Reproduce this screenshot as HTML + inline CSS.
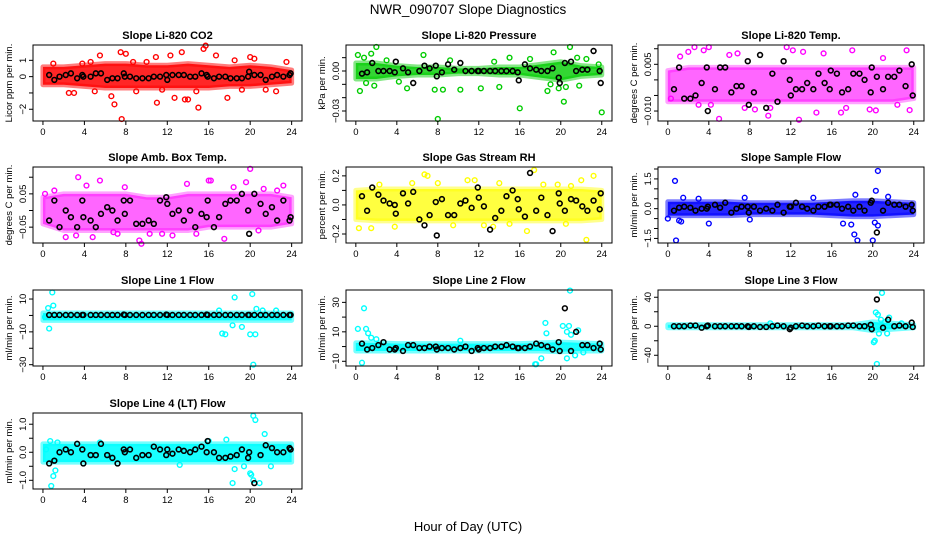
<!DOCTYPE html>
<html><head><meta charset="utf-8"><style>
html,body{margin:0;padding:0;background:#fff}
svg{display:block;font-family:"Liberation Sans",sans-serif}
</style></head><body>
<svg id="chart" width="936" height="540" xmlns="http://www.w3.org/2000/svg">
<text x="468" y="14" font-size="13.5" text-anchor="middle">NWR_090707  Slope Diagnostics</text>
<text x="468" y="531" font-size="13" text-anchor="middle">Hour of Day (UTC)</text>
</svg>
<script>
const envX=[0,2,4,6,8,10,12,14,16,18,20,22,24];
const bx=[0.6,1.1,1.6,2.2,2.7,3.3,3.8,3.9,4.6,5.1,5.6,6.2,6.7,7.2,7.8,7.9,8.4,9,9.6,10.2,10.7,11.3,11.9,12.0,12.5,13.1,13.6,14.2,14.7,15.3,15.8,15.9,16.5,17,17.6,18.1,18.7,19.2,19.8,19.9,20.4,21,21.5,22.1,22.6,23.2,23.8,23.9];
const xTicks=[0,4,8,12,16,20,24];

const co2Hi=[0.6,0.6,0.7,0.8,0.8,0.7,0.7,0.8,0.7,0.6,0.7,0.6,0.4];
const co2Lo=[-0.5,-0.5,-0.6,-0.7,-0.7,-0.7,-0.7,-0.7,-0.7,-0.6,-0.6,-0.5,-0.4];
const co2Ox=[7.6,6.6,6.9,11,15,7.5,8,5.5,10.9,13.4,15.5,15.7,16.7,20,12.7,14,13.7,17.8,22.5,3,4.6,10,1,21.5,9,11.5,2.5,5,8.7,12.3,18.5,23.5,19.2,14.8,3.8,20.4];
const co2Oy=[-2.6,-1.2,-1.7,-1.6,-1.9,1.5,1.4,1.3,1.2,1.5,1.7,1.9,1.3,1.2,-1.3,-1.4,-1.4,-1.3,-0.9,-1,0.9,0.9,0.8,-0.8,-0.9,-0.8,-1,-0.9,0.9,1.3,1,0.9,-0.8,-0.9,0.8,1.1];
const co2By=[0.1,-0.2,0,0.1,0.2,-0.1,0.1,0,0,0.2,0.2,-0.2,-0.1,-0.1,0.2,0,0,-0.1,-0.1,-0.1,0,0,0.1,-0.2,0.1,0.1,0.1,0,0,0.2,0.1,0,-0.1,0,0,-0.1,-0.1,-0.1,0,0.3,0.1,0.1,-0.2,0,0.1,0,0.1,0.2];

const prHi=[0.006,0.006,0.004,0.003,0.003,0.002,0.002,0.003,0.003,0.005,0.007,0.004,0.003];
const prLo=[-0.006,-0.006,-0.004,-0.003,-0.003,-0.002,-0.002,-0.003,-0.003,-0.005,-0.007,-0.004,-0.003];
const prOx=[8,16,24,20.3,2,0.2,1.5,20.9,0.4,10.2,18.7,6.6,15,9.2,21.6,19.3,1.8,5,7.7,8.5,12.2,14,19.8,21.8,1,3,13.5,17,22.5,23.7,0.8,19,20.5,4.2];
const prOy=[-0.036,-0.028,-0.031,-0.023,0.018,0.012,0.013,0.018,-0.015,-0.014,-0.015,0.012,0.01,0.008,0.01,0.014,-0.011,-0.013,-0.014,-0.014,-0.013,-0.012,-0.013,-0.011,-0.009,0.008,0.007,0.009,0.009,0.005,0.01,-0.01,-0.012,-0.008];
const prBy=[-0.002,-0.001,0.006,0,0,0,-0.001,0.007,0.002,-0.001,-0.009,0,0.004,0.002,0.004,-0.004,-0.001,0.005,0.001,0.006,0,0,0,0,0,0,0,0,0,0,-0.001,-0.007,0.005,0.002,0.001,0,0,0.002,-0.005,-0.009,0.006,0.007,0,0.001,0.001,0.015,0,-0.009];

const tpHi=[0.003,0.004,0.004,0.004,0.004,0.004,0.004,0.004,0.004,0.004,0.004,0.004,0.004];
const tpLo=[-0.007,-0.007,-0.007,-0.007,-0.007,-0.007,-0.007,-0.007,-0.007,-0.007,-0.007,-0.007,-0.006];
const tpOx=[5,12.8,9.8,2.6,4,11.6,1.2,3,6,7.5,8.5,10,13.2,14.5,16.9,18,19.7,20.3,23.6,23.3,0.3,2,15.2,17.4,21,22.4,3.5,6.8,12.2,4.2];
const tpOy=[-0.0125,-0.0128,-0.0115,0.0105,0.0105,0.0105,0.0075,-0.008,0.008,-0.009,-0.0095,-0.009,0.009,-0.0105,-0.0105,0.0095,-0.0095,-0.0098,-0.0097,0.0095,-0.006,0.009,0.0085,-0.009,0.007,-0.008,0.0095,0.0085,0.0095,-0.008];
const tpBy=[-0.003,0.004,-0.006,-0.006,-0.005,-0.001,0.004,-0.010,-0.003,0.004,0.004,-0.004,-0.002,-0.002,0.006,-0.008,-0.004,0.008,-0.009,0.002,-0.007,0.006,0,-0.005,-0.003,-0.003,-0.001,-0.003,0.002,-0.001,-0.003,0.003,0.002,-0.004,-0.003,0.002,0.002,0,-0.004,0.004,0.001,-0.003,0.001,0.001,0.003,-0.002,0.005,-0.005];

const abHi=[0.04,0.05,0.05,0.05,0.05,0.04,0.04,0.05,0.05,0.05,0.05,0.05,0.04];
const abLo=[-0.04,-0.06,-0.06,-0.06,-0.06,-0.06,-0.06,-0.06,-0.05,-0.05,-0.05,-0.05,-0.04];
const abOx=[20,3.4,5.5,4.2,9.3,9.5,10.3,11.5,12.5,17.5,16,16.2,19.6,23.2,2.2,6.8,7.2,13.9,1.1,3.2,7.9,18.4,21.3,22.6,0.2,4.8,14.8,20.8];
const abOy=[0.125,0.1,0.09,0.075,-0.09,-0.1,-0.07,-0.07,-0.075,-0.085,0.09,0.09,0.085,0.075,-0.08,-0.065,-0.07,0.08,0.06,-0.075,0.07,0.07,0.065,0.06,0.05,-0.08,-0.07,-0.06];
const abBy=[-0.03,0.03,-0.05,0,-0.02,-0.05,0.03,-0.02,-0.03,-0.05,-0.01,0.01,0,-0.03,0.03,-0.01,0.03,-0.04,-0.04,-0.03,-0.04,0.03,0.04,0.02,-0.01,0,-0.03,0,-0.05,-0.01,-0.02,0.03,-0.05,-0.02,0.02,0.03,0.03,0.05,0,-0.07,0.05,0.02,-0.01,0.01,-0.03,0.03,-0.03,-0.02];

const rhHi=[0.1,0.11,0.11,0.11,0.11,0.11,0.11,0.11,0.11,0.11,0.11,0.11,0.1];
const rhLo=[-0.1,-0.11,-0.11,-0.11,-0.11,-0.11,-0.11,-0.11,-0.11,-0.11,-0.11,-0.11,-0.1];
const rhOx=[22.5,17.4,6.7,7,1.5,16.7,23.2,22,11.6,10.9,8,5.5,0.3,3.8,9.5,12.5,14,19.7,20.5,2.3,15,18.3,13.4,21];
const rhOy=[-0.24,0.24,0.21,0.2,-0.16,-0.18,0.2,0.17,0.17,0.17,0.15,0.15,-0.16,-0.15,-0.14,-0.14,0.15,0.14,-0.13,0.14,-0.13,0.14,-0.15,0.13];
const rhBy=[0.06,-0.04,0.12,0.07,0.03,0.01,0,-0.06,0.08,0.01,0.09,-0.1,-0.14,-0.07,0.02,-0.21,0.04,-0.07,-0.07,0.01,0.03,-0.02,0.12,0.05,-0.01,-0.17,-0.09,-0.04,0.06,0.1,0.04,-0.03,-0.08,0.22,-0.04,0.05,-0.07,-0.18,0.08,0.01,-0.04,0.04,0.03,-0.01,-0.04,0.03,-0.03,0.08];

const sfHi=[0.35,0.35,0.35,0.35,0.3,0.3,0.3,0.3,0.35,0.4,0.4,0.35,0.3];
const sfLo=[-0.35,-0.35,-0.35,-0.35,-0.3,-0.3,-0.3,-0.3,-0.35,-0.4,-0.4,-0.35,-0.3];
const sfOx=[0.7,0.8,1.1,1.3,4,17.1,17.9,18.2,18.5,20,20.2,20.5,20.3,20.5,18.3,21.5,7.5,1.5,14.2,8,0,3];
const sfOy=[1.4,-1.6,-0.6,-0.65,-0.75,-0.75,-0.8,-1.3,-1.6,-1.6,-0.7,-0.85,0.9,1.9,0.7,0.6,0.55,0.55,0.55,-0.55,-0.5,0.5];
const sfBy=[-0.1,0.05,0.1,0.05,-0.1,0,0,0.1,0.2,0.05,0.3,-0.2,0,0.1,0.1,-0.2,0.1,-0.1,0,-0.1,0.2,-0.2,0.1,0.1,0.3,0.1,0,-0.1,0.1,0.1,0.2,0.2,0.2,0,0.1,-0.1,0.1,-0.1,0.3,0.4,-1.2,-0.1,0.3,0.2,0.2,0.1,0.2,-0.1];

const l1Hi=[1.5,1.5,1.5,1.5,1.5,1.5,1.5,1.5,1.5,1.5,1.5,1.5,1.5];
const l1Lo=[-3,-3,-3,-3,-3,-3,-3,-3,-3,-3,-3,-3,-3];
const l1Ox=[0.9,1,0.5,0.6,18.5,20.2,20.3,17.3,17.6,20,20.5,20.6,19.2,18.3,17,21.2,22.5,0.2];
const l1Oy=[14,6,4.5,-8,11,13,-30,-11,-11.5,-11.5,-11.5,4,-7,-6,3,3,3,-1];
const l1By=[0.3,0.3,0.3,0.3,0.3,0.3,0.3,0.3,0.3,0.3,0.3,0.3,0.3,0.3,0.5,0.3,0.3,0.3,0.3,0.3,0.3,0.3,0.5,0.3,0.3,0.3,0.3,0.3,0.3,0.3,0.5,0.3,0.3,0.3,0.3,0.3,0.3,0.3,0.3,0.3,0.3,0.3,0.3,0.3,0.3,0.3,0.3,0.3];

const l2Hi=[2.5,2.5,2,2,2,2,2,2,2,2.5,3,2.5,2];
const l2Lo=[-3,-3,-3,-3,-3,-3,-3,-3,-3,-3,-3.5,-3,-3];
const l2Ox=[0.8,0.2,1,1.2,1.5,0.6,18.5,18.6,17.5,17.6,20.2,20.6,20.8,20.9,21,21.4,21.7,18.1,22.2,20.6,2,10.2];
const l2Oy=[26,12,12,9,6,-11,16,9,-12,-12,14,10,14,38,8,-6,11,-8,-4,-8,5,4];
const l2By=[2,-2,-1,1,3,-2,-2,-1,-3,1,1,-1,-1,0,0,-2,-1,-1,-2,-1,0,-3,-1,-2,-1,-1,0,0,1,0,-1,-1,-1,0,2,1,0,-2,3,-3,26,-3,10,1,1,-1,2,-2];

const l3Hi=[2,2,2,2,2,2,2,2,2,2,6,4,2];
const l3Lo=[-2,-2,-2,-2,-2,-2,-2,-2,-2,-2,-6,-4,-2];
const l3Ox=[20.9,20.4,20.1,20.3,20.5,20.2,20.6,21.4,21.6,20.8,21.2,10,22.8];
const l3Oy=[46,-52,-22,19,16,-20,-10,-10,12,9,6,4,4];
const l3By=[0,0,0,1,1,-2,0,1,0,0,0,0,0,0,0,-1,0,-1,-1,0,1,0,-4,-2,0,1,0,0,1,0,0,0,0,0,1,1,0,0,2,-4,37,-2,9,0,1,0,5,-1];

const l4Hi=[0.3,0.3,0.3,0.3,0.3,0.3,0.3,0.3,0.3,0.3,0.3,0.3,0.3];
const l4Lo=[-0.35,-0.35,-0.35,-0.35,-0.35,-0.35,-0.35,-0.35,-0.35,-0.35,-0.35,-0.35,-0.35];
const l4Ox=[0.8,1,1.2,0.7,1.4,20.3,20.5,20,20.1,20.3,21.4,18.3,18.5,19.4,13.2,22,17.7,5.5,16,20.9,0.3];
const l4Oy=[-1.2,-0.85,-0.65,0.4,0.35,1.3,1.15,-0.75,-0.8,-1.0,0.65,-1.1,-0.6,-0.5,-0.45,-0.5,0.45,0.35,0.4,-1.1,0.1];
const l4By=[-0.4,-0.3,0,0.1,0,0.3,0.1,-0.4,-0.1,-0.1,0.3,-0.1,-0.2,-0.4,0.1,0,0.1,-0.2,-0.1,-0.1,0.2,0.1,-0.1,0.1,-0.05,0.1,0.05,0,0.1,0.2,0,0.4,0,-0.2,-0.2,-0.15,-0.1,0.1,-0.2,0,-1.1,-0.1,0.25,0.15,0,0,0.15,0.1];

const NS="http://www.w3.org/2000/svg";
const svg=document.getElementById('chart');
function mk(tag,attrs,parent){const e=document.createElementNS(NS,tag);for(const k in attrs)e.setAttribute(k,attrs[k]);(parent||svg).appendChild(e);return e;}

const panels=[
 {name:'co2',title:'Slope Li-820 CO2',ylab:'Licor ppm per min.',col:'#ff0000',op:0.85,c:0,r:0,y0:-2.72,y1:1.94,ticks:[1,0,-1,-2],labs:['1','0','','\u22122'],hi:co2Hi,lo:co2Lo,ox:co2Ox,oy:co2Oy,by:co2By},
 {name:'pressure',title:'Slope Li-820 Pressure',ylab:'kPa per min.',col:'#00cc00',op:0.8,c:1,r:0,y0:-0.0375,y1:0.0195,ticks:[0.01,0,-0.01,-0.02,-0.03],labs:['','0.00','','','\u22120.03'],hi:prHi,lo:prLo,ox:prOx,oy:prOy,by:prBy},
 {name:'temp',title:'Slope Li-820 Temp.',ylab:'degrees C per min.',col:'#ff00ff',op:0.6,c:2,r:0,y0:-0.0132,y1:0.0112,ticks:[0.01,0.005,0,-0.005,-0.01],labs:['','0.005','','','\u22120.010'],hi:tpHi,lo:tpLo,ox:tpOx,oy:tpOy,by:tpBy},
 {name:'amb-box-temp',title:'Slope Amb. Box Temp.',ylab:'degrees C per min.',col:'#ff00ff',op:0.6,c:0,r:1,y0:-0.0976,y1:0.1307,ticks:[0.1,0.05,0,-0.05],labs:['','0.05','','\u22120.05'],hi:abHi,lo:abLo,ox:abOx,oy:abOy,by:abBy},
 {name:'gas-rh',title:'Slope Gas Stream RH',ylab:'percent per min.',col:'#ffff00',op:0.75,c:1,r:1,y0:-0.262,y1:0.261,ticks:[0.2,0.1,0,-0.1,-0.2],labs:['0.2','','0.0','','\u22120.2'],hi:rhHi,lo:rhLo,ox:rhOx,oy:rhOy,by:rhBy},
 {name:'sample-flow',title:'Slope Sample Flow',ylab:'ml/min per min.',col:'#0000ff',op:0.85,c:2,r:1,y0:-1.73,y1:2.1,ticks:[2,1.5,1,0.5,0,-0.5,-1,-1.5],labs:['','1.5','','','0.0','','','\u22121.5'],hi:sfHi,lo:sfLo,ox:sfOx,oy:sfOy,by:sfBy},
 {name:'line1-flow',title:'Slope Line 1 Flow',ylab:'ml/min per min.',col:'#00ffff',op:0.9,c:0,r:2,y0:-30.8,y1:15.5,ticks:[10,0,-10,-20,-30],labs:['10','','\u221210','','\u221230'],hi:l1Hi,lo:l1Lo,ox:l1Ox,oy:l1Oy,by:l1By},
 {name:'line2-flow',title:'Slope Line 2 Flow',ylab:'ml/min per min.',col:'#00ffff',op:0.9,c:1,r:2,y0:-13.2,y1:38.4,ticks:[30,20,10,0,-10],labs:['30','','10','','\u221210'],hi:l2Hi,lo:l2Lo,ox:l2Ox,oy:l2Oy,by:l2By},
 {name:'line3-flow',title:'Slope Line 3 Flow',ylab:'ml/min per min.',col:'#00ffff',op:0.9,c:2,r:2,y0:-54.8,y1:50,ticks:[40,20,0,-20,-40],labs:['40','','0','','\u221240'],hi:l3Hi,lo:l3Lo,ox:l3Ox,oy:l3Oy,by:l3By},
 {name:'line4-flow',title:'Slope Line 4 (LT) Flow',ylab:'ml/min per min.',col:'#00ffff',op:0.9,c:0,r:3,y0:-1.31,y1:1.4,ticks:[1,0.5,0,-0.5,-1],labs:['1.0','','0.0','','\u22121.0'],hi:l4Hi,lo:l4Lo,ox:l4Ox,oy:l4Oy,by:l4By}
];
const colX=[33,346,658], colW=[269,266,266], rowY=[45,167,290,413], H=76;
const XMIN=-0.96, XMAX=25.0;

panels.forEach(p=>{
  const L=colX[p.c], W=colW[p.c], T=rowY[p.r];
  const xs=v=>L+(v-XMIN)/(XMAX-XMIN)*W;
  const ys=v=>T+H-(v-p.y0)/(p.y1-p.y0)*H;
  const g=mk('g',{});
  
  
  const t=mk('text',{x:L+W/2,y:T-6,'font-size':11,'font-weight':'bold','text-anchor':'middle'},g);
  t.textContent=p.title;
  
  
  // band
  let pts=envX.map((x,i)=>xs(x)+','+ys(p.hi[i]));
  pts=pts.concat(envX.slice().reverse().map((x,i)=>xs(x)+','+ys(p.lo[envX.length-1-i])));
  const band=mk('polygon',{points:pts.join(' '),fill:p.col,'fill-opacity':p.op,stroke:p.col,'stroke-opacity':p.op*0.6,'stroke-width':5,'stroke-linejoin':'round'},g);
  
  
  // outliers
  p.ox.forEach((x,i)=>{
    const c=mk('circle',{cx:xs(x),cy:ys(p.oy[i]),r:2.4,fill:'none',stroke:p.col,'stroke-width':1.4},g);
    
    
  });
  // black points
  bx.forEach((x,i)=>{
    const c=mk('circle',{cx:xs(x),cy:ys(p.by[i]),r:2.4,fill:'none',stroke:'#000','stroke-width':1.6},g);
    
    
  });
  const box=mk('rect',{x:L,y:T,width:W,height:H,fill:'none',stroke:'#000','stroke-width':1},g);
  
  
  xTicks.forEach(v=>{
    mk('line',{x1:xs(v),x2:xs(v),y1:T+H,y2:T+H+4,stroke:'#000'},g);
    const tl=mk('text',{x:xs(v),y:T+H+14,'font-size':9.5,'text-anchor':'middle'},g);
    tl.textContent=v;
    
    
  });
  p.ticks.forEach((v,i)=>{
    mk('line',{x1:L-4,x2:L,y1:ys(v),y2:ys(v),stroke:'#000'},g);
    if(p.labs[i]){
      const tl=mk('text',{x:0,y:0,'font-size':9.5,'text-anchor':'middle',transform:`translate(${L-7},${ys(v)}) rotate(-90)`},g);
      tl.textContent=p.labs[i];
      
      
    }
  });
  const yl=mk('text',{x:0,y:0,'font-size':9.5,'text-anchor':'middle',transform:`translate(${L-21},${T+H/2}) rotate(-90)`},g);
  yl.textContent=p.ylab;
  
  
});
</script>
</body></html>
